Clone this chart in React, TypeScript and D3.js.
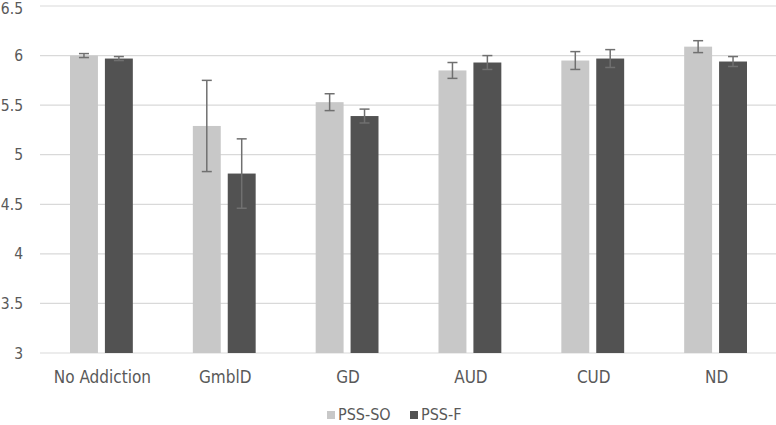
import React, { useEffect, useRef } from 'react';
import * as d3 from 'd3';

const categories = ['No Addiction', 'GmblD', 'GD', 'AUD', 'CUD', 'ND'];
const seriesNames = ['PSS-SO', 'PSS-F'];
const pssSO = [6.0, 5.29, 5.53, 5.85, 5.95, 6.09];
const pssSOErr = [0.02, 0.46, 0.085, 0.08, 0.09, 0.06];
const pssF = [5.97, 4.81, 5.39, 5.93, 5.97, 5.94];
const pssFErr = [0.02, 0.35, 0.07, 0.07, 0.09, 0.05];
const yTicks = [3, 3.5, 4, 4.5, 5, 5.5, 6, 6.5];

const colors = ['#c8c8c8', '#525252'];
const font = "'DejaVu Sans Condensed', 'DejaVu Sans', sans-serif";

const App = () => {
  const svgRef = useRef(null);

  useEffect(() => {
    const width = 776;
    const height = 425;
    const margin = { top: 6, right: 0, bottom: 72, left: 40 };

    const svg = d3.select(svgRef.current);
    svg.selectAll('*').remove();
    svg.attr('width', width).attr('height', height);

    const x = d3.scaleBand().domain(categories).range([margin.left, 777]);
    const y = d3.scaleLinear().domain([3, 6.5]).range([height - margin.bottom, margin.top]);
    const x1 = d3.scaleBand().domain(seriesNames).range([30, x.bandwidth() - 30]).paddingInner(0.2);

    // gridlines
    svg.append('g')
      .selectAll('line')
      .data(yTicks)
      .enter().append('line')
      .attr('x1', margin.left)
      .attr('x2', 777)
      .attr('y1', d => y(d))
      .attr('y2', d => y(d))
      .attr('stroke', '#d9d9d9')
      .attr('stroke-width', 1.2);

    // y labels (top one nudged down so it stays inside the frame)
    svg.append('g')
      .selectAll('text')
      .data(yTicks)
      .enter().append('text')
      .attr('x', 23)
      .attr('y', d => Math.max(y(d), 8))
      .attr('dy', '0.36em')
      .attr('text-anchor', 'end')
      .attr('fill', '#595959')
      .style('font-family', font)
      .style('font-size', '15.5px')
      .text(d => d);

    const rows = categories.map((c, i) => ({
      c,
      vals: [
        { s: seriesNames[0], v: pssSO[i], e: pssSOErr[i] },
        { s: seriesNames[1], v: pssF[i], e: pssFErr[i] },
      ],
    }));

    const groups = svg.append('g')
      .selectAll('g')
      .data(rows)
      .enter().append('g')
      .attr('transform', d => `translate(${x(d.c)},0)`);

    groups.selectAll('rect')
      .data(d => d.vals)
      .enter().append('rect')
      .attr('x', d => x1(d.s))
      .attr('width', x1.bandwidth())
      .attr('y', d => y(d.v))
      .attr('height', d => y(3) - y(d.v))
      .attr('fill', (d, i) => colors[i]);

    // error bars
    const err = groups.selectAll('g.err')
      .data(d => d.vals)
      .enter().append('g')
      .attr('class', 'err')
      .attr('stroke', '#707070')
      .attr('stroke-width', 1.5);

    const cx = d => x1(d.s) + x1.bandwidth() / 2;
    err.append('line')
      .attr('x1', cx).attr('x2', cx)
      .attr('y1', d => y(d.v + d.e)).attr('y2', d => y(d.v - d.e));
    err.append('line')
      .attr('x1', d => cx(d) - 5).attr('x2', d => cx(d) + 5)
      .attr('y1', d => y(d.v + d.e)).attr('y2', d => y(d.v + d.e));
    err.append('line')
      .attr('x1', d => cx(d) - 5).attr('x2', d => cx(d) + 5)
      .attr('y1', d => y(d.v - d.e)).attr('y2', d => y(d.v - d.e));

    // x labels
    svg.append('g')
      .selectAll('text')
      .data(categories)
      .enter().append('text')
      .attr('x', d => x(d) + x.bandwidth() / 2 + 1)
      .attr('y', 383)
      .attr('text-anchor', 'middle')
      .attr('fill', '#595959')
      .style('font-family', font)
      .style('font-size', '17px')
      .text(d => d);

    // legend
    const legend = svg.append('g').attr('transform', 'translate(327,420)');
    const items = legend.selectAll('g')
      .data(seriesNames)
      .enter().append('g')
      .attr('transform', (d, i) => `translate(${i * 83},0)`);
    items.append('rect')
      .attr('x', 0).attr('y', -9).attr('width', 8).attr('height', 8)
      .attr('fill', (d, i) => colors[i]);
    items.append('text')
      .attr('x', 11).attr('y', 0)
      .attr('fill', '#595959')
      .style('font-family', font)
      .style('font-size', '16px')
      .text(d => d);
  }, []);

  return <svg ref={svgRef} style={{ position: 'absolute', left: 0, top: 0, background: '#fff' }}></svg>;
};

export default App;
